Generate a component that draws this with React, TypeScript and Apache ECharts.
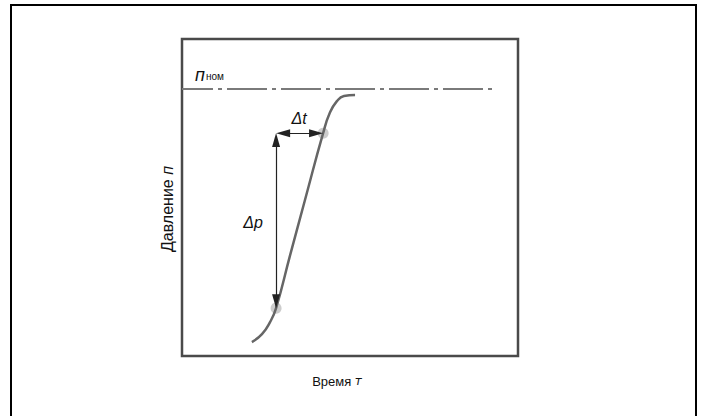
import React, { useEffect, useRef } from "react";
import * as echarts from "echarts";

// Curve: pressure vs time (arbitrary units 0..100)
const curveX = [20.8, 23.8, 26.2, 28.0, 32.1, 36.6, 42.0, 44.0, 46.1, 48.2, 51.5];
const curveY = [4.4, 6.9, 10.7, 15.1, 31.5, 49.2, 70.3, 76.7, 80.4, 82.0, 82.3];
// Marked points on the curve
const markerX = [28.0, 42.0];
const markerY = [15.1, 70.3];
// Nominal pressure level
const nominalLevel = 84.2;
const nominalEndX = 92.6;

export default function App() {
  const ref = useRef<HTMLDivElement>(null);
  useEffect(() => {
    if (!ref.current) return;
    const chart = echarts.init(ref.current, undefined, { renderer: "svg" });
    const font = "'Liberation Sans', Arial, sans-serif";
    const obl = "'DejaVu Sans', sans-serif";
    const [x1, x2] = markerX;
    const [y1, y2] = markerY;
    chart.setOption({
      animation: false,
      backgroundColor: "#fff",
      grid: {
        left: 182,
        top: 39,
        width: 336,
        height: 317,
        show: true,
        borderColor: "#4a4a4a",
        borderWidth: 2.5,
        backgroundColor: "transparent",
      },
      xAxis: {
        type: "value",
        min: 0,
        max: 100,
        axisLine: { show: false },
        axisTick: { show: false },
        axisLabel: { show: false },
        splitLine: { show: false },
      },
      yAxis: {
        type: "value",
        min: 0,
        max: 100,
        axisLine: { show: false },
        axisTick: { show: false },
        axisLabel: { show: false },
        splitLine: { show: false },
      },
      series: [
        {
          type: "scatter",
          data: markerX.map((x, i) => [x, markerY[i]]),
          symbolSize: 11,
          itemStyle: { color: "rgba(170,170,170,0.75)" },
          z: 1,
        },
        {
          type: "line",
          data: [
            [0, nominalLevel],
            [nominalEndX, nominalLevel],
          ],
          showSymbol: false,
          lineStyle: { color: "#7a7a7a", width: 2, type: [40, 5, 4, 5], dashOffset: 9 },
          z: 2,
        },
        {
          type: "line",
          data: curveX.map((x, i) => [x, curveY[i]]),
          smooth: true,
          showSymbol: false,
          lineStyle: { color: "#666", width: 2.5 },
          z: 3,
          markLine: {
            silent: true,
            symbol: ["triangle", "triangle"],
            symbolSize: [8, 14],
            label: { show: false },
            lineStyle: { color: "#222", width: 1.2, type: "solid" },
            data: [
              [
                { coord: [x1, y2 - 2.2] },
                { coord: [x1, y1 + 2.2] },
              ],
              [
                { coord: [x1 + 2.1, y2] },
                { coord: [x2 - 2.1, y2] },
              ],
            ],
          },
        },
      ],
      graphic: [
        {
          type: "rect",
          shape: { x: 11, y: 5, width: 685, height: 430 },
          style: { fill: "none", stroke: "#000", lineWidth: 2 },
          silent: true,
        },
        {
          type: "text",
          x: 195,
          y: 75,
          style: {
            text: "{a|п}{b|ном}",
            verticalAlign: "middle",
            rich: {
              a: { fontSize: 18, fontStyle: "italic", fontFamily: font, fill: "#111" },
              b: { fontSize: 10, fontFamily: font, fill: "#111", padding: [3, 0, 0, 1] },
            },
          },
        },
        {
          type: "text",
          x: 299,
          y: 118,
          style: {
            text: "Δt",
            fontSize: 16,
            fontStyle: "italic",
            fontFamily: font,
            fill: "#111",
            align: "center",
            verticalAlign: "middle",
          },
        },
        {
          type: "text",
          x: 253,
          y: 222,
          style: {
            text: "Δp",
            fontSize: 16,
            fontStyle: "italic",
            fontFamily: font,
            fill: "#111",
            align: "center",
            verticalAlign: "middle",
          },
        },
        {
          type: "text",
          x: 167,
          y: 209,
          rotation: Math.PI / 2,
          style: {
            text: "{a|Давление }{b|п}",
            align: "center",
            verticalAlign: "middle",
            rich: {
              a: { fontSize: 16, fontFamily: font, fill: "#111" },
              b: { fontSize: 16, fontStyle: "italic", fontFamily: font, fill: "#111" },
            },
          },
        },
        {
          type: "text",
          x: 337,
          y: 381,
          style: {
            text: "{a|Время }{b|т}",
            align: "center",
            verticalAlign: "middle",
            rich: {
              a: { fontSize: 13, fontFamily: font, fill: "#111" },
              b: { fontSize: 12, fontStyle: "oblique", fontFamily: obl, fill: "#111" },
            },
          },
        },
      ],
    });
    return () => chart.dispose();
  }, []);
  return (
    <div
      ref={ref}
      style={{ position: "absolute", left: 0, top: 0, width: 702, height: 416 }}
    />
  );
}
